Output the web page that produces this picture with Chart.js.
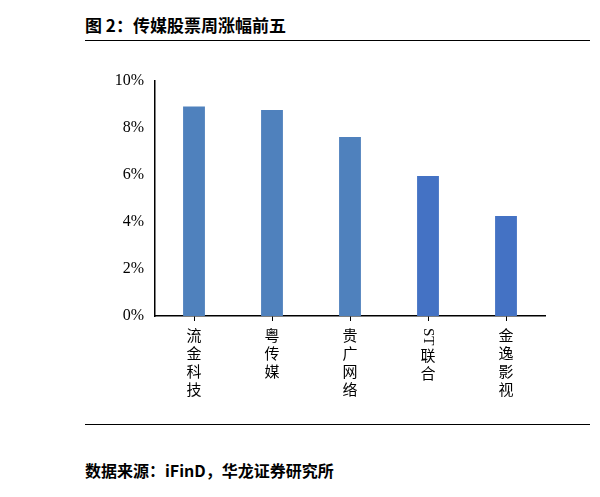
<!DOCTYPE html>
<html>
<head>
<meta charset="utf-8">
<script src="https://cdn.jsdelivr.net/npm/chart.js@4"></script>
<style>
    body { margin: 0; width: 600px; height: 497px; background: #fff; position: relative; font-family: "Noto Sans CJK SC", serif; }
    #title { position: absolute; left: 85px; top: 12px; width: 505px; height: 28px; border-bottom: 1.5px solid #000; font-size: 17px; font-weight: bold; }
    #bottom { position: absolute; left: 85px; top: 424px; width: 505px; border-top: 1px solid #000; }
    #source { position: absolute; left: 85px; top: 458px; font-size: 16px; font-weight: bold; }
    #wrap { position: absolute; left: 85px; top: 68px; width: 470px; height: 353px; }
</style>
</head>
<body>
<div id="title">图 2：传媒股票周涨幅前五</div>
<div id="wrap"><canvas id="myChart"></canvas></div>
<div id="bottom"></div>
<div id="source">数据来源：iFinD，华龙证券研究所</div>
<script>
    const categories = ['流金科技', '粤传媒', '贵广网络', 'ST联合', '金逸影视'];
    const weeklyGain = [8.9, 8.75, 7.6, 5.95, 4.25];
    const barColors = ['#4F81BD', '#4F81BD', '#4F81BD', '#4472C4', '#4472C4'];

    // vertical category labels, "ST" is rotated like in the original
    const verticalLabels = {
        id: 'verticalLabels',
        afterDraw(chart) {
            const ctx = chart.ctx;
            const xScale = chart.scales.x;
            const top = xScale.top + 12;
            ctx.save();
            ctx.fillStyle = '#000';
            ctx.font = '15px "Noto Sans CJK SC"';
            ctx.textAlign = 'center';
            ctx.textBaseline = 'top';
            categories.forEach((name, i) => {
                const x = xScale.getPixelForValue(i);
                let y = top;
                let rest = name;
                if (name.startsWith('ST')) {
                    ctx.save();
                    ctx.font = '15px "Liberation Serif"';
                    ctx.translate(x, y);
                    ctx.rotate(Math.PI / 2);
                    ctx.textAlign = 'left';
                    ctx.textBaseline = 'middle';
                    ctx.fillText('ST', 0, 0);
                    ctx.restore();
                    y += 20;
                    rest = name.slice(2);
                }
                for (const ch of rest) {
                    ctx.fillText(ch, x, y);
                    y += 18;
                }
            });
            ctx.restore();
        }
    };

    new Chart(document.getElementById('myChart'), {
        type: 'bar',
        data: {
            labels: categories,
            datasets: [{
                data: weeklyGain,
                backgroundColor: barColors,
                barPercentage: 0.28,
                categoryPercentage: 1
            }]
        },
        options: {
            responsive: true,
            maintainAspectRatio: false,
            animation: false,
            layout: { padding: { right: 10 } },
            plugins: { legend: { display: false }, tooltip: { enabled: false } },
            scales: {
                x: {
                    grid: { display: true, drawOnChartArea: false, offset: false, tickLength: 5, color: '#000' },
                    border: { color: '#000', width: 1.5 },
                    ticks: { display: false },
                    afterFit(scale) { scale.height = 105; }
                },
                y: {
                    min: 0,
                    max: 10,
                    ticks: {
                        stepSize: 2,
                        color: '#000',
                        font: { family: 'Liberation Serif', size: 16 },
                        callback: v => v + '%'
                    },
                    grid: { display: false },
                    border: { color: '#000', width: 1.5 },
                    afterFit(scale) { scale.width = 70; }
                }
            }
        },
        plugins: [verticalLabels]
    });
</script>
</body>
</html>
